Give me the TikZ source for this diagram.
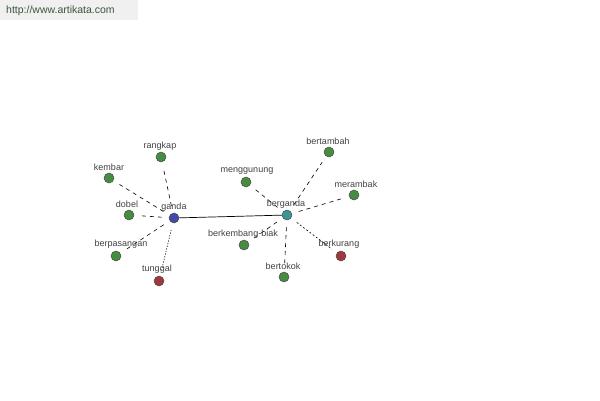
\documentclass[tikz,border=0pt]{standalone}
\usepackage{fontspec}
\setmainfont{Liberation Sans}
\definecolor{leafgreen}{RGB}{70,140,65}
\definecolor{negred}{RGB}{160,55,60}
\definecolor{hubblue}{RGB}{65,75,165}
\definecolor{hubteal}{RGB}{60,150,150}
\definecolor{urlcol}{RGB}{60,85,60}
\begin{document}
\begin{tikzpicture}[x=1pt,y=-1pt,
  dot/.style={circle,draw=black!70,line width=0.5pt,minimum size=10pt,inner sep=0pt},
  leaf/.style={dot,fill=leafgreen},
  neg/.style={dot,fill=negred},
  lbl/.style={font=\fontsize{9}{10}\selectfont,text=black!75,inner sep=0pt},
  link/.style={draw=black,line width=0.6pt,dash pattern=on 4pt off 4pt,shorten <=7pt,shorten >=7pt},
  dlink/.style={draw=black,line width=0.6pt,dash pattern=on 1.2pt off 1.5pt,shorten <=7pt,shorten >=6pt}]
\useasboundingbox (0,0) rectangle (600,400);
\fill[black!6] (0,0) rectangle (138,20);
\node[font=\fontsize{10.5}{12}\selectfont,text=urlcol,anchor=west,inner sep=0pt] (url) at (6,11) {http://www.artikata.com};
% hubs
\node[dot,fill=hubblue] (ganda) at (174,218) {};
\node[dot,fill=hubteal] (berganda) at (287,215) {};
% leaves
\node[leaf] (rangkap) at (161,157) {};
\node[leaf] (kembar) at (109,178) {};
\node[leaf] (dobel) at (129,215) {};
\node[leaf] (berpasangan) at (116,256) {};
\node[neg] (tunggal) at (159,281) {};
\node[leaf] (menggunung) at (246,182) {};
\node[leaf] (bertambah) at (329,152) {};
\node[leaf] (merambak) at (354,195) {};
\node[leaf] (berkembang) at (244,245) {};
\node[neg] (berkurang) at (341,256) {};
\node[leaf] (bertokok) at (284,277) {};
% connectors
\draw[line width=0.7pt] (ganda) -- (berganda);
\draw[link] (ganda) -- (rangkap);
\draw[link] (ganda) -- (kembar);
\draw[link] (ganda) -- (dobel);
\draw[link] (ganda) -- (berpasangan);
\draw[dlink] (ganda) -- (tunggal);
\draw[link] (berganda) -- (menggunung);
\draw[link] (berganda) -- (bertambah);
\draw[link] (berganda) -- (merambak);
\draw[link] (berganda) -- (berkembang);
\draw[dlink,dash pattern=on 2pt off 2pt] (berganda) -- (berkurang);
\draw[link] (berganda) -- (bertokok);
% labels
\node[lbl] (l-ganda) at (174,207) {ganda};
\node[lbl] (l-berganda) at (286,204) {berganda};
\node[lbl] (l-rangkap) at (160,146) {rangkap};
\node[lbl] (l-kembar) at (109,167) {kembar};
\node[lbl] (l-dobel) at (127,204) {dobel};
\node[lbl] (l-berpasangan) at (121,244) {berpasangan};
\node[lbl] (l-tunggal) at (157,269) {tunggal};
\node[lbl] (l-menggunung) at (247,171) {menggunung};
\node[lbl] (l-bertambah) at (328,141) {bertambah};
\node[lbl] (l-merambak) at (356,184) {merambak};
\node[lbl] (l-berkembang) at (243,234) {berkembang-biak};
\node[lbl] (l-berkurang) at (339,244) {berkurang};
\node[lbl] (l-bertokok) at (283,266) {bertokok};
\end{tikzpicture}
\end{document}
